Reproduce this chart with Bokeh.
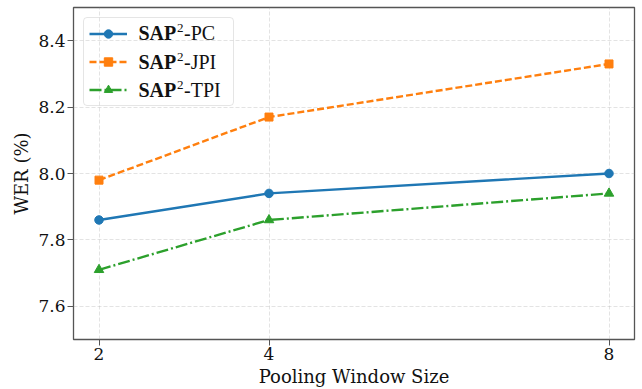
from bokeh.plotting import figure
from bokeh.models import Range1d, FixedTicker, NumeralTickFormatter, Legend, LegendItem, Label
from bokeh.core.properties import value
from bokeh.embed import file_html
from bokeh.resources import INLINE

# ---- data ----
window_sizes = [2, 4, 8]
wer_pc = [7.86, 7.94, 8.00]
wer_jpi = [7.98, 8.17, 8.33]
wer_tpi = [7.71, 7.86, 7.94]
series_names = ["-PC", "-JPI", "-TPI"]
x_ticks = [2, 4, 8]
y_ticks = [7.6, 7.8, 8.0, 8.2, 8.4]
X_RANGE = (1.7, 8.3)
Y_RANGE = (7.5, 8.5)

BLUE, ORANGE, GREEN = "#1f77b4", "#ff7f0e", "#2ca02c"
SERIF = "DejaVu Serif"

W, H = 642, 389
ML, MR, MT, MB = 73, 8, 7, 50

p = figure(width=W, height=H, x_range=Range1d(*X_RANGE), y_range=Range1d(*Y_RANGE),
           output_backend="svg", toolbar_location=None, title=None,
           min_border_left=ML, min_border_right=MR, min_border_top=MT, min_border_bottom=MB)
p.background_fill_color = "white"
p.border_fill_color = "white"
p.outline_line_color = "#555555"
p.outline_line_width = 1.3

for ax in (p.xaxis[0], p.yaxis[0]):
    ax.axis_line_color = None
    ax.major_tick_out = 6
    ax.major_tick_in = 0
    ax.major_tick_line_color = "#555555"
    ax.major_tick_line_width = 1
    ax.minor_tick_line_color = None
    ax.major_label_text_font = SERIF
    ax.major_label_text_font_size = "17px"
    ax.major_label_text_color = "#111111"
    ax.axis_label_text_font = SERIF
    ax.axis_label_text_font_size = "18px"
    ax.axis_label_text_font_style = "normal"
    ax.axis_label_text_color = "#111111"
    ax.major_label_standoff = 2
    ax.axis_label_standoff = 3

p.xaxis.ticker = FixedTicker(ticks=x_ticks)
p.xaxis.formatter = NumeralTickFormatter(format="0")
p.yaxis.ticker = FixedTicker(ticks=y_ticks)
p.yaxis.formatter = NumeralTickFormatter(format="0.0")
p.xaxis.axis_label = "Pooling Window Size"
p.yaxis.axis_label = "WER (%)"

p.xgrid.ticker = FixedTicker(ticks=x_ticks)
p.ygrid.ticker = FixedTicker(ticks=y_ticks)
for g in (p.xgrid[0], p.ygrid[0]):
    g.grid_line_color = "#b0b0b0"
    g.grid_line_alpha = 0.45
    g.grid_line_width = 0.8
    g.grid_line_dash = "4 2"

l1 = p.line(window_sizes, wer_pc, line_color=BLUE, line_width=2.4)
s1 = p.scatter(window_sizes, wer_pc, marker="circle", size=8.5, fill_color=BLUE, line_color=BLUE)
l2 = p.line(window_sizes, wer_jpi, line_color=ORANGE, line_width=2.4, line_dash="7 3")
s2 = p.scatter(window_sizes, wer_jpi, marker="square", size=8, fill_color=ORANGE, line_color=ORANGE)
l3 = p.line(window_sizes, wer_tpi, line_color=GREEN, line_width=2.4, line_dash="12 3 2 3")
s3 = p.scatter(window_sizes, wer_tpi, marker="triangle", size=9.5, fill_color=GREEN, line_color=GREEN)

legend = Legend(items=[LegendItem(label=value(" "), renderers=[l1, s1]),
                       LegendItem(label=value(" "), renderers=[l2, s2]),
                       LegendItem(label=value(" "), renderers=[l3, s3])],
                location="top_left", margin=10, padding=5, spacing=7,
                glyph_width=38, glyph_height=21, label_height=21, label_width=89,
                label_standoff=12, label_text_font_size="17px",
                border_line_color="#cccccc", border_line_width=1,
                background_fill_alpha=0)
if "border_radius" in Legend.properties():
    legend.border_radius = 4
p.add_layout(legend)

# legend texts (bold SAP, superscript 2, suffix)
frame_w = W - ML - MR
frame_h = H - MT - MB
x_txt = X_RANGE[0] + 65 * (X_RANGE[1] - X_RANGE[0]) / frame_w
row_offsets = [25.3, 54.0, 82.0]
for name, off in zip(series_names, row_offsets):
    y_txt = Y_RANGE[1] - off * (Y_RANGE[1] - Y_RANGE[0]) / frame_h
    p.add_layout(Label(x=x_txt, y=y_txt, text="SAP", text_font="Liberation Serif",
                       text_font_style="bold", text_font_size="20px", text_baseline="middle",
                       text_color="#111111", level="overlay"))
    p.add_layout(Label(x=x_txt, y=y_txt, x_offset=38.5, y_offset=5, text="2",
                       text_font="Liberation Serif", text_font_size="13px",
                       text_baseline="middle", text_color="#111111", level="overlay"))
    p.add_layout(Label(x=x_txt, y=y_txt, x_offset=45.5, text=name, text_font="Liberation Serif",
                       text_font_size="20px", text_baseline="middle", text_color="#111111",
                       level="overlay"))

open("out.html", "w").write(file_html(p, INLINE))
